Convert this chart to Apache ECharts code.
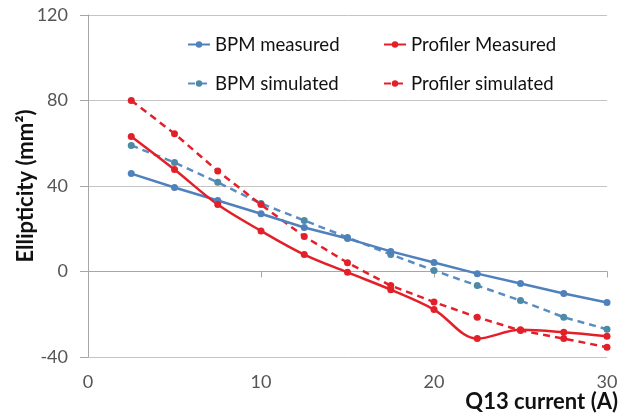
<!DOCTYPE html>
<html>
<head>
<meta charset="utf-8">
<script src="https://cdn.jsdelivr.net/npm/echarts@6/dist/echarts.min.js"></script>
<style>
  html, body { margin: 0; padding: 0; background: #fff; }
  #chart { width: 619px; height: 418px; }
</style>
</head>
<body>
<div id="chart"></div>
<script>
const current = [2.5, 5, 7.5, 10, 12.5, 15, 17.5, 20, 22.5, 25, 27.5, 30];
const bpmMeasured = [45.8, 39.3, 33.2, 27, 20.6, 15.4, 9.4, 4.2, -1, -5.6, -10.3, -14.5];
const bpmSimulated = [59, 51, 41.7, 31.8, 23.9, 15.9, 8, 0.5, -6.6, -13.6, -21.4, -27];
const profMeasured = [63.2, 47.7, 31.3, 19, 7.9, -0.4, -8.5, -17.8, -31.4, -27.3, -28.4, -30.3];
const profSimulated = [80, 64.5, 47, 31.3, 16.4, 4.1, -6.6, -14.3, -21.4, -27.6, -31.4, -35.4];

const font = 'Lato, "Open Sans", sans-serif';
const blue = '#4f81bd';
const blueSimLine = '#5a8cc2';
const blueSimDot = '#4d8aa6';
const red = '#e3202a';

const pairs = vals => current.map((x, i) => [x, vals[i]]);

function line(name, vals, color, dotColor, dashed, smooth) {
  return {
    name: name,
    type: 'line',
    data: pairs(vals),
    smooth: smooth,
    symbol: 'circle',
    symbolSize: 7,
    itemStyle: { color: dotColor },
    lineStyle: { color: color, width: 2.5, type: dashed ? [7, 5] : 'solid' },
    emphasis: { disabled: true },
    z: dashed ? 2 : 3
  };
}

const chart = echarts.init(document.getElementById('chart'));
const legendText = { fontFamily: font, fontSize: 18.6, color: '#111' };
chart.setOption({
  animation: false,
  grid: { left: 88, right: 12, top: 15, bottom: 61, containLabel: false, outerBoundsMode: 'none' },
  legend: [
    {
      data: ['BPM measured', 'BPM simulated'],
      orient: 'vertical', left: 182, top: 30, itemGap: 20,
      itemWidth: 22, itemHeight: 8, textStyle: legendText
    },
    {
      data: ['Profiler Measured', 'Profiler simulated'],
      orient: 'vertical', left: 378, top: 30, itemGap: 20,
      itemWidth: 22, itemHeight: 8, textStyle: legendText
    }
  ],
  // x axis title sits under the "30" label, right aligned
  graphic: [{
    type: 'text', right: 1, top: 391,
    style: { text: 'Q13 current (A)', font: 'bold 22px ' + font, fill: '#111' }
  }],
  xAxis: {
    type: 'value', min: 0, max: 30, interval: 10,
    axisLine: { lineStyle: { color: '#a6a6a6', width: 1 } },
    axisTick: { show: true, length: 6, lineStyle: { color: '#a6a6a6' } },
    axisLabel: { fontFamily: font, fontSize: 18, color: '#555', margin: 16 },
    splitLine: { show: false }
  },
  yAxis: {
    type: 'value', min: -40, max: 120, interval: 40,
    name: 'Ellipticity (mm²)',
    nameLocation: 'middle', nameRotate: 90, nameGap: 51, nameMoveOverlap: false,
    nameTextStyle: { fontFamily: font, fontSize: 22, fontWeight: 'bold', color: '#111' },
    axisLine: { show: true, lineStyle: { color: '#a6a6a6', width: 1 } },
    axisTick: { show: true, length: 8, lineStyle: { color: '#a6a6a6' } },
    axisLabel: { fontFamily: font, fontSize: 18, color: '#555', margin: 20 },
    splitLine: { lineStyle: { color: '#c4c4c4', width: 1 } }
  },
  series: [
    line('BPM measured', bpmMeasured, blue, blue, false, false),
    line('Profiler Measured', profMeasured, red, red, false, 0.35),
    line('BPM simulated', bpmSimulated, blueSimLine, blueSimDot, true, false),
    line('Profiler simulated', profSimulated, red, red, true, false)
  ]
});
</script>
</body>
</html>
